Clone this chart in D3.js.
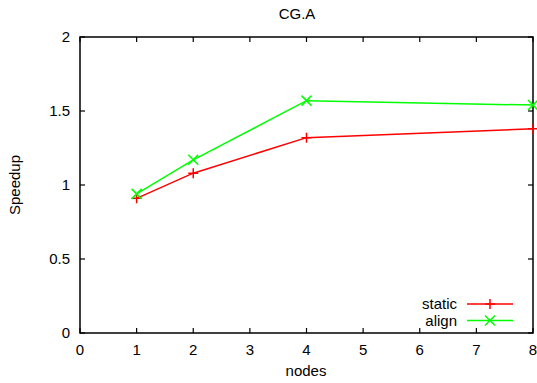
<!DOCTYPE html>
<html>
<head>
<meta charset="utf-8">
<script src="https://cdn.jsdelivr.net/npm/d3@7"></script>
<style>
  body { margin: 0; background: #fff; }
  text { font-family: "Liberation Sans", Arial, sans-serif; font-size: 15px; fill: #000; }
</style>
</head>
<body>
<div id="chart-area"></div>
<script>
// data
var nodes = [1, 2, 4, 8];
var staticVals = [0.91, 1.08, 1.32, 1.38];
var alignVals = [0.94, 1.17, 1.57, 1.54];
var xTicks = [0, 1, 2, 3, 4, 5, 6, 7, 8];
var yTicks = [0, 0.5, 1, 1.5, 2];

var W = 537, H = 383;
var margin = { left: 80, right: 4, top: 37, bottom: 50 },
    width = 533 - margin.left,
    height = 333 - margin.top;

var svg = d3.select("#chart-area")
    .append("svg")
    .attr("width", W)
    .attr("height", H);

var g = svg.append("g")
    .attr("transform", "translate(" + margin.left + "," + margin.top + ")");

// Scales
var x = d3.scaleLinear().domain([0, 8]).range([0, width]);
var y = d3.scaleLinear().domain([0, 2]).range([height, 0]);

var tickLen = 5;

// ticks (inward, mirrored)
xTicks.forEach(function(t) {
    g.append("line").attr("x1", x(t)).attr("x2", x(t))
        .attr("y1", height).attr("y2", height - tickLen)
        .attr("stroke", "#000").attr("stroke-width", 1.2);
    g.append("line").attr("x1", x(t)).attr("x2", x(t))
        .attr("y1", 0).attr("y2", tickLen)
        .attr("stroke", "#000").attr("stroke-width", 1.2);
    g.append("text")
        .attr("x", x(t)).attr("y", height + 22)
        .attr("text-anchor", "middle")
        .text(t);
});
yTicks.forEach(function(t) {
    g.append("line").attr("x1", 0).attr("x2", tickLen)
        .attr("y1", y(t)).attr("y2", y(t))
        .attr("stroke", "#000").attr("stroke-width", 1.2);
    g.append("line").attr("x1", width).attr("x2", width - tickLen)
        .attr("y1", y(t)).attr("y2", y(t))
        .attr("stroke", "#000").attr("stroke-width", 1.2);
    g.append("text")
        .attr("x", -10).attr("y", y(t) + 5)
        .attr("text-anchor", "end")
        .text(t);
});

// frame
g.append("rect")
    .attr("width", width).attr("height", height)
    .attr("fill", "none")
    .attr("stroke", "#000")
    .attr("stroke-width", 1.5);

// Labels
svg.append("text").attr("x", 297).attr("y", 19)
    .attr("text-anchor", "middle").text("CG.A");
svg.append("text").attr("x", 306).attr("y", 376)
    .attr("text-anchor", "middle").text("nodes");
svg.append("text")
    .attr("transform", "translate(20," + 185 + ") rotate(-90)")
    .attr("text-anchor", "middle").text("Speedup");

var series = [
    { name: "static", values: staticVals, color: "#ff0000", mark: "plus" },
    { name: "align", values: alignVals, color: "#00ff00", mark: "cross" }
];

var line = d3.line()
    .x(function(d) { return x(d[0]); })
    .y(function(d) { return y(d[1]); });

function marker(sel, cx, cy, type, color) {
    var s = 5;
    if (type == "plus") {
        sel.append("path")
            .attr("d", "M" + (cx - s) + "," + cy + "H" + (cx + s) + "M" + cx + "," + (cy - s) + "V" + (cy + s))
            .attr("stroke", color).attr("stroke-width", 1.5).attr("fill", "none");
    } else {
        sel.append("path")
            .attr("d", "M" + (cx - s) + "," + (cy - s) + "L" + (cx + s) + "," + (cy + s) +
                "M" + (cx - s) + "," + (cy + s) + "L" + (cx + s) + "," + (cy - s))
            .attr("stroke", color).attr("stroke-width", 1.5).attr("fill", "none");
    }
}

series.forEach(function(s, i) {
    var pts = nodes.map(function(n, j) { return [n, s.values[j]]; });
    g.append("path")
        .attr("d", line(pts))
        .attr("fill", "none")
        .attr("stroke", s.color)
        .attr("stroke-width", 1.5);
    pts.forEach(function(p) {
        marker(g, x(p[0]), y(p[1]), s.mark, s.color);
    });

    // legend
    var ly = 304 + i * 16.5;
    svg.append("text").attr("x", 457).attr("y", ly + 5)
        .attr("text-anchor", "end").text(s.name);
    svg.append("line").attr("x1", 467).attr("x2", 513)
        .attr("y1", ly).attr("y2", ly)
        .attr("stroke", s.color).attr("stroke-width", 1.5);
    marker(svg, 490, ly, s.mark, s.color);
});
</script>
</body>
</html>
